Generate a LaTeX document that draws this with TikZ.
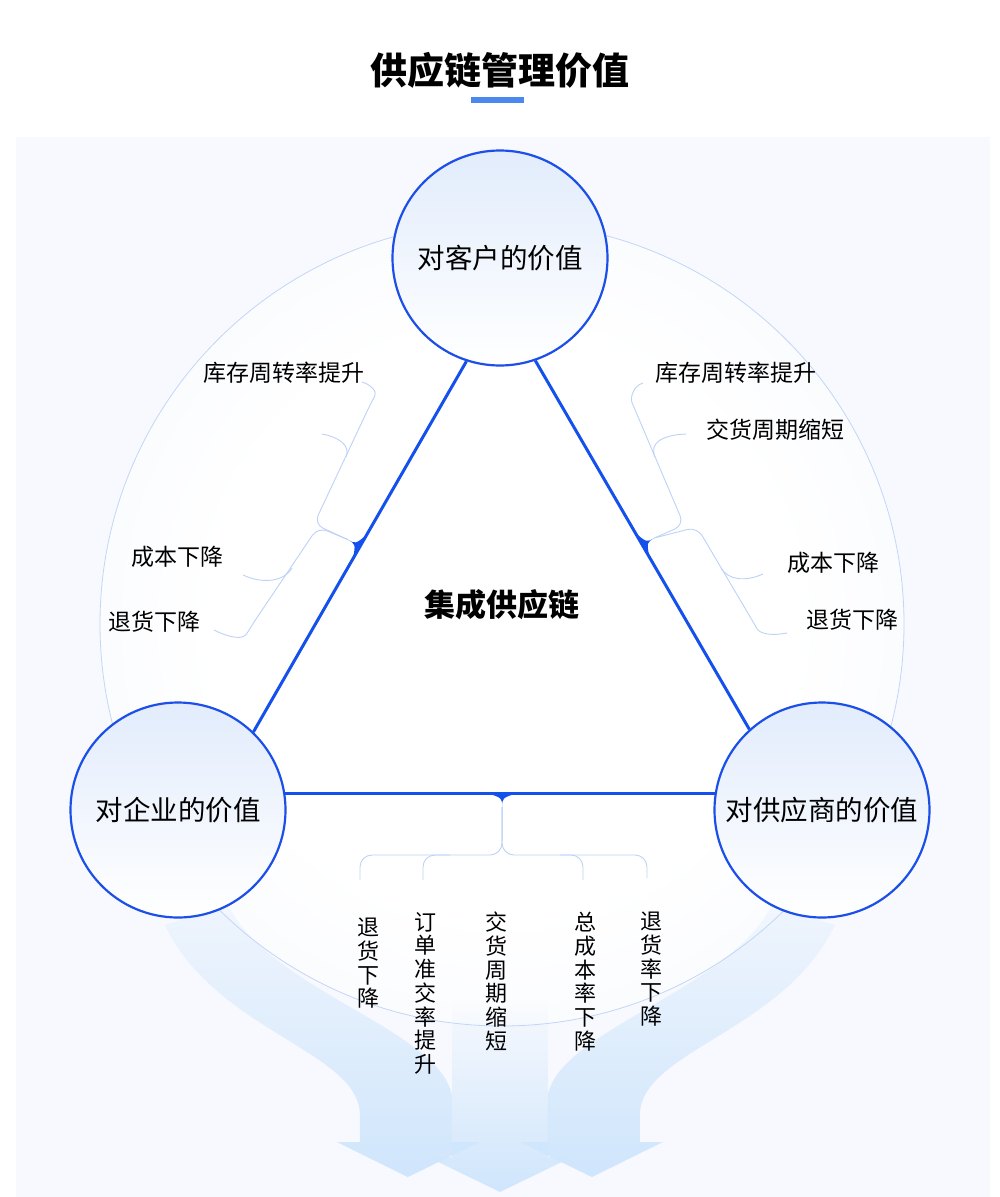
\documentclass[tikz,border=0pt]{standalone}
\usepackage{fontspec}
\setmainfont{Noto Sans CJK SC}
\usetikzlibrary{calc,fadings}
\definecolor{panelc}{HTML}{F7F9FE}
\definecolor{bigc}{HTML}{ECF1FB}
\definecolor{ringc}{HTML}{C3D6F7}
\definecolor{lineblue}{HTML}{1450EB}
\definecolor{hubblue}{HTML}{1C4FE8}
\definecolor{hubtop}{HTML}{E2ECFC}
\definecolor{treec}{HTML}{BDD2F6}
\definecolor{barc}{HTML}{4A88EE}
\definecolor{arrbot}{HTML}{D0E6FC}
\pgfdeclareradialshading{glow}{\pgfpoint{0bp}{0bp}}{color(0bp)=(white); color(18bp)=(white); color(50bp)=(bigc)}
\tikzfading[name=arrfade, top color=transparent!80, bottom color=transparent!0]
\tikzfading[name=arrfadec, top color=transparent!100, bottom color=transparent!0]
\tikzset{
  hub/.style={circle, draw=hubblue, line width=2.2pt, minimum size=215pt, inner sep=0pt,
    top color=hubtop, bottom color=white, font=\fontsize{27.5}{30}\selectfont},
  lbl/.style={inner sep=0pt, font=\fontsize{23}{26}\selectfont},
  vlbl/.style={inner sep=0pt, align=center, anchor=north, font=\fontsize{22}{23.7}\selectfont},
  tree/.style={draw=treec, line width=0.9pt, rounded corners=10pt},
  blueline/.style={draw=lineblue, line width=3pt},
  bigarrow/.style={fill=arrbot, path fading=arrfade},
  bigarrowc/.style={fill=arrbot, path fading=arrfadec}
}
\begin{document}
\begin{tikzpicture}[x=1pt,y=-1pt]
\useasboundingbox (0,0) rectangle (1000,1197);
\fill[white] (0,0) rectangle (1000,1197);
\fill[panelc] (16,137) rectangle (990,1197);
% title
\node[inner sep=0pt, font=\fontsize{37}{40}\selectfont\bfseries] (title) at (500,70) {供应链管理价值};
\fill[barc] (471,97) rectangle (524,103);
% big circle
\shade[shading=glow] (502,624) circle[radius=402];
% big arrows
\path[bigarrow] (165,925) .. controls (215,1030) and (355,1050) .. (360,1112) -- (360,1142) -- (337,1142) -- (408,1177) -- (480,1142) -- (452,1142) -- (452,1095) .. controls (440,1030) and (270,990) .. (228,905) -- cycle;
\path[bigarrow] (835,925) .. controls (785,1030) and (645,1050) .. (640,1112) -- (640,1142) -- (663,1142) -- (592,1177) -- (520,1142) -- (548,1142) -- (548,1095) .. controls (560,1030) and (730,990) .. (772,905) -- cycle;
\path[bigarrowc] (452,1000) -- (452,1157) -- (428,1157) -- (500,1192) -- (572,1157) -- (548,1157) -- (548,1000) -- cycle;
\draw[ringc, line width=0.8pt] (502,624) circle[radius=402];
% hubs
\node[hub] (cust) at (500,258) {对客户的价值};
\node[hub] (ent) at (178,810) {对企业的价值};
\node[hub] (sup) at (822,810) {对供应商的价值};
% triangle lines
\draw[blueline] (cust.252.4) -- (ent.46.4);
\draw[blueline] (cust.289.1) -- (sup.132.8);
\draw[blueline] (ent.9) -- (sup.171);
% spikes
\coordinate (lP) at ($(cust.252.4)!0.5!(ent.46.4)$);
\coordinate (lA) at ($(lP)!14pt!(cust.252.4)$);
\coordinate (lB) at ($(lP)!14pt!(ent.46.4)$);
\coordinate (lC) at ($(lP)!5pt!-90:(ent.46.4)$);
\coordinate (lT) at ($(lP)!14pt!-90:(ent.46.4)$);
\fill[lineblue] (lA) .. controls (lC) .. (lT) .. controls (lC) .. (lB) -- cycle;
\coordinate (rP) at ($(cust.289.1)!0.5!(sup.132.8)$);
\coordinate (rA) at ($(rP)!14pt!(cust.289.1)$);
\coordinate (rB) at ($(rP)!14pt!(sup.132.8)$);
\coordinate (rC) at ($(rP)!5pt!90:(sup.132.8)$);
\coordinate (rT) at ($(rP)!14pt!90:(sup.132.8)$);
\fill[lineblue] (rA) .. controls (rC) .. (rT) .. controls (rC) .. (rB) -- cycle;
\coordinate (bP) at ($(ent.9)!0.505!(sup.171)$);
\coordinate (bA) at ($(bP)!15pt!(ent.9)$);
\coordinate (bB) at ($(bP)!15pt!(sup.171)$);
\coordinate (bC) at ($(bP)!5pt!-90:(sup.171)$);
\coordinate (bT) at ($(bP)!14pt!-90:(sup.171)$);
\fill[lineblue] (bA) .. controls (bC) .. (bT) .. controls (bC) .. (bB) -- cycle;
% labels
\node[lbl, anchor=east] (l1) at (365,373) {库存周转率提升};
\node[lbl, anchor=east] (l2) at (224,557) {成本下降};
\node[lbl, anchor=east] (l3) at (201,622) {退货下降};
\node[lbl, anchor=west] (r1) at (655,373) {库存周转率提升};
\node[lbl, anchor=west] (r2) at (706,430) {交货周期缩短};
\node[lbl, anchor=west] (r3) at (787,563) {成本下降};
\node[lbl, anchor=west] (r4) at (806,620) {退货下降};
\node[vlbl] (b1) at (368,918) {退\\货\\下\\降};
\node[vlbl] (b2) at (425,912) {订\\单\\准\\交\\率\\提\\升};
\node[vlbl] (b3) at (496,912) {交\\货\\周\\期\\缩\\短};
\node[vlbl] (b4) at (585,912) {总\\成\\本\\率\\下\\降};
\node[vlbl] (b5) at (651,912) {退\\货\\率\\下\\降};
\node[inner sep=0pt, font=\fontsize{31}{34}\selectfont\bfseries] (core) at (502,605) {集成供应链};
% left tree
\draw[tree] (lT) -- (314,524) -- (370,405) .. controls (377,392) and (372,385) .. (362,382);
\draw[treec, line width=0.9pt] (346,457) .. controls (351,445) and (338,437) .. (322,434);
\draw[tree] (lT) -- (318,527) -- (252,625) .. controls (243,640) and (230,638) .. (214,630);
\draw[treec, line width=0.9pt] (292,568) .. controls (284,582) and (262,584) .. (243,575);
% right tree
\draw[tree] (rT) -- (684,525) -- (636,412) .. controls (630,398) and (633,386) .. (643,383);
\draw[treec, line width=0.9pt] (655,457) .. controls (649,443) and (662,435) .. (686,434);
\draw[tree] (rT) -- (697,527) -- (752,620) .. controls (760,634) and (772,636) .. (787,633);
\draw[treec, line width=0.9pt] (721,568) .. controls (728,580) and (745,582) .. (763,574);
% bottom tree
\draw[tree, rounded corners=12pt] (bT) -- (502,855) -- (360,855) -- (360,880);
\draw[tree, rounded corners=12pt] (450,855) -- (423,855) -- (423,880);
\draw[tree, rounded corners=12pt] (bT) -- (502,855) -- (647,855) -- (647,878);
\draw[tree, rounded corners=12pt] (560,855) -- (583,855) -- (583,880);
\end{tikzpicture}
\end{document}
